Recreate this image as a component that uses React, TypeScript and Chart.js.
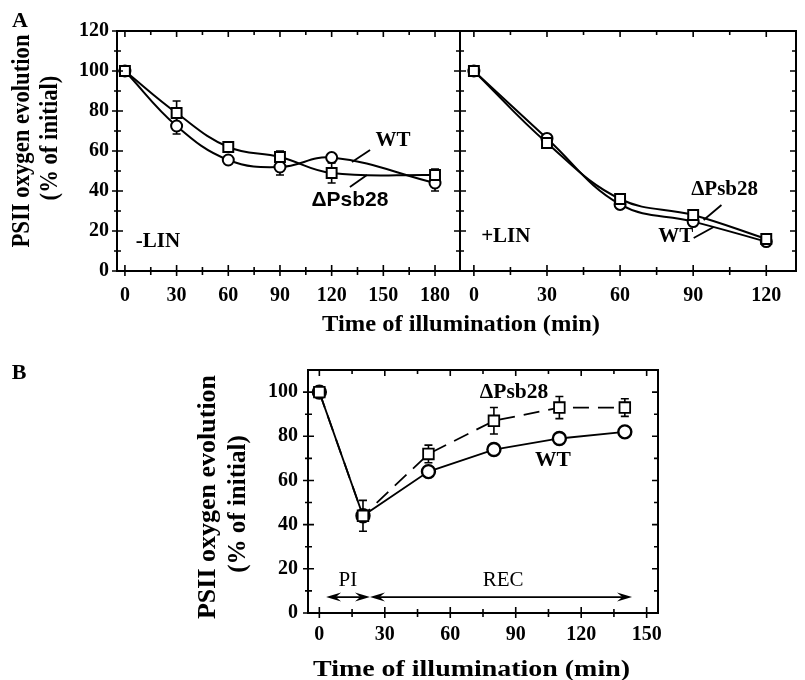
import React, { useEffect, useRef } from 'react';
import { Chart, registerables } from 'chart.js';
Chart.register(...registerables);

const W = 805;
const H = 680;
const SERIF = '"Liberation Serif", "Times New Roman", Times, serif';
const SANS = '"Liberation Sans", Arial, Helvetica, sans-serif';

// ---------- Panel A, -LIN ----------
const timeALeft = [0, 30, 60, 90, 120, 180];
const wtALeft = [100, 72.5, 55.5, 52, 56.7, 44];
const wtALeftErr = [0, 4, 0, 4, 0, 4];
const dALeft = [100, 79, 62, 57, 49, 48];
const dALeftErr = [0, 6, 2, 3, 5, 3];

// ---------- Panel A, +LIN ----------
const timeARight = [0, 30, 60, 90, 120];
const wtARight = [100, 66.3, 33.3, 24.7, 14.7];
const wtARightErr = [0, 0, 2, 0, 0];
const dARight = [100, 64, 36, 28, 16];
const dARightErr = [0, 0, 0, 0, 0];

// ---------- Panel B ----------
const timeB = [0, 20, 50, 80, 110, 140];
const wtB = [100, 44, 64, 74, 79, 82];
const wtBErr = [0, 0, 1, 2, 2, 2];
const dB = [100, 44, 72, 87, 93, 93];
const dBErr = [0, 7, 4, 6, 5, 4];

// ---------- ticks ----------
const xTicksALeft = [0, 30, 60, 90, 120, 150, 180];
const xMinorALeft = [15, 45, 75, 105, 135, 165];
const xTicksARight = [0, 30, 60, 90, 120];
const xMinorARight = [15, 45, 75, 105];
const yTicksA = [0, 20, 40, 60, 80, 100, 120];
const yMinorA = [10, 30, 50, 70, 90, 110];
const xTicksB = [0, 30, 60, 90, 120, 150];
const xMinorB = [15, 45, 75, 105, 135];
const yTicksB = [0, 20, 40, 60, 80, 100];
const yMinorB = [10, 30, 50, 70, 90];

type Txt = { x: number; y: number; text: string; font: string };
type Seg = { x1: number; y1: number; x2: number; y2: number };
type Arrow = { x1: number; x2: number; y: number };
type PageLabel = { px: number; py: number; text: string; font: string; rot?: number; width?: number; sx?: number };
type ErrSet = { xs: number[]; ys: number[]; errs: number[] };
type Spec = {
  xMajor: number[]; xMinor: number[]; yMajor: number[]; yMinor: number[];
  errors: ErrSet[]; texts: Txt[]; segs: Seg[]; arrows: Arrow[]; labels: PageLabel[];
  leftOut: boolean;
};

const bold = (s: number, fam = SERIF) => `bold ${s}px ${fam}`;

// annotation text (data coordinates)
const annALeft: Txt[] = [
  { x: 155.6, y: 65, text: 'WT', font: bold(21) },
  { x: 130.6, y: 35.5, text: '\u0394Psb28', font: bold(21, SANS) },
  { x: 19.2, y: 14.5, text: '-LIN', font: bold(21) },
];
const segALeft: Seg[] = [
  { x1: 142.3, y1: 60.5, x2: 131.8, y2: 54.5 },
  { x1: 140.5, y1: 48, x2: 130.6, y2: 42 },
];
const annARight: Txt[] = [
  { x: 102.9, y: 40.5, text: '\u0394Psb28', font: bold(21) },
  { x: 82.9, y: 17, text: 'WT', font: bold(21) },
  { x: 13.1, y: 17, text: '+LIN', font: bold(21) },
];
const segARight: Seg[] = [
  { x1: 101.6, y1: 33, x2: 94.3, y2: 25.5 },
  { x1: 90.2, y1: 16.5, x2: 98.4, y2: 22 },
];
const annB: Txt[] = [
  { x: 89.2, y: 99.9, text: '\u0394Psb28', font: bold(21.5) },
  { x: 107.1, y: 69.1, text: 'WT', font: bold(21.5) },
  { x: 13.1, y: 14.9, text: 'PI', font: `21px ${SERIF}` },
  { x: 84.2, y: 14.9, text: 'REC', font: `21px ${SERIF}` },
];
const arrowsB: Arrow[] = [
  { x1: 3.1, x2: 23.2, y: 7.2 },
  { x1: 23.2, x2: 143.3, y: 7.2 },
];

function makePlugin(spec: Spec) {
  return {
    id: 'frame',
    beforeDatasetsDraw(chart: any) {
      const ctx = chart.ctx as CanvasRenderingContext2D;
      const xs = chart.scales.x, ys = chart.scales.y;
      ctx.save();
      ctx.strokeStyle = '#000';
      ctx.lineWidth = 1.6;
      for (const e of spec.errors) {
        e.xs.forEach((xv, i) => {
          const err = e.errs[i];
          if (!err) return;
          const cx = xs.getPixelForValue(xv);
          const y1 = ys.getPixelForValue(e.ys[i] - err);
          const y2 = ys.getPixelForValue(e.ys[i] + err);
          ctx.beginPath();
          ctx.moveTo(cx, y1); ctx.lineTo(cx, y2);
          ctx.moveTo(cx - 4, y1); ctx.lineTo(cx + 4, y1);
          ctx.moveTo(cx - 4, y2); ctx.lineTo(cx + 4, y2);
          ctx.stroke();
        });
      }
      ctx.restore();
    },
    afterDraw(chart: any) {
      const ctx = chart.ctx as CanvasRenderingContext2D;
      const xs = chart.scales.x, ys = chart.scales.y;
      const { left, right, top, bottom } = chart.chartArea;
      ctx.save();
      ctx.strokeStyle = '#000';
      ctx.fillStyle = '#000';
      // ticks
      ctx.lineWidth = 1.6;
      ctx.beginPath();
      const vt = (v: number, maj: boolean) => {
        const p = xs.getPixelForValue(v);
        const inn = maj ? 6 : 4, out = maj ? 5 : 4;
        ctx.moveTo(p, bottom + out); ctx.lineTo(p, bottom - inn);
        ctx.moveTo(p, top); ctx.lineTo(p, top + inn);
      };
      const ht = (v: number, maj: boolean) => {
        const p = ys.getPixelForValue(v);
        const inn = maj ? 6 : 4, out = maj ? 5 : 3;
        ctx.moveTo(left - (spec.leftOut ? out : 0), p); ctx.lineTo(left + inn, p);
        ctx.moveTo(right, p); ctx.lineTo(right - inn, p);
      };
      spec.xMajor.forEach((v) => vt(v, true));
      spec.xMinor.forEach((v) => vt(v, false));
      spec.yMajor.forEach((v) => ht(v, true));
      spec.yMinor.forEach((v) => ht(v, false));
      ctx.stroke();
      // frame
      ctx.lineWidth = 2;
      ctx.strokeRect(left, top, right - left, bottom - top);
      // leader lines
      ctx.lineWidth = 1.8;
      for (const s of spec.segs) {
        ctx.beginPath();
        ctx.moveTo(xs.getPixelForValue(s.x1), ys.getPixelForValue(s.y1));
        ctx.lineTo(xs.getPixelForValue(s.x2), ys.getPixelForValue(s.y2));
        ctx.stroke();
      }
      // arrows
      ctx.lineWidth = 1.8;
      const head = (tx: number, ty: number, d: number) => {
        const L = 15, hw = 4.5;
        ctx.beginPath();
        ctx.moveTo(tx, ty);
        ctx.lineTo(tx - d * L, ty - hw);
        ctx.lineTo(tx - d * L * 0.65, ty);
        ctx.lineTo(tx - d * L, ty + hw);
        ctx.closePath();
        ctx.fill();
      };
      for (const a of spec.arrows) {
        const p1 = xs.getPixelForValue(a.x1), p2 = xs.getPixelForValue(a.x2);
        const py = ys.getPixelForValue(a.y);
        ctx.beginPath();
        ctx.moveTo(p1 + 4, py); ctx.lineTo(p2 - 4, py);
        ctx.stroke();
        head(p1, py, -1);
        head(p2, py, 1);
      }
      // annotation text
      ctx.textAlign = 'center';
      ctx.textBaseline = 'middle';
      for (const t of spec.texts) {
        ctx.font = t.font;
        ctx.fillText(t.text, xs.getPixelForValue(t.x), ys.getPixelForValue(t.y));
      }
      // page labels (axis titles, panel letters)
      for (const l of spec.labels) {
        ctx.save();
        ctx.font = l.font;
        ctx.translate(l.px, l.py);
        if (l.sx) ctx.scale(l.sx, 1);
        if (l.rot) ctx.rotate(l.rot);
        if (l.width) {
          const w = ctx.measureText(l.text).width;
          ctx.scale(l.width / w, 1);
        }
        ctx.fillText(l.text, 0, 0);
        ctx.restore();
      }
      ctx.restore();
    },
  };
}

const tickFont = { family: SERIF, size: 20, weight: 'bold' as const };

function pts(xs: number[], ys: number[]) {
  return xs.map((x, i) => ({ x, y: ys[i] }));
}

function ds(label: string, data: any[], square: boolean, opts: any = {}) {
  return {
    label,
    data,
    borderColor: '#000',
    borderWidth: 2,
    pointStyle: square ? 'rect' : 'circle',
    pointRadius: square ? 7 : 5.5,
    pointBackgroundColor: '#fff',
    pointBorderColor: '#000',
    pointBorderWidth: 2,
    fill: false,
    ...opts,
  };
}

function xScale(min: number, max: number, ticks: number[], bottomPx: number, pad: number) {
  return {
    type: 'linear',
    min,
    max,
    afterBuildTicks: (s: any) => { s.ticks = ticks.map((v) => ({ value: v })); },
    afterFit: (s: any) => { s.height = H - bottomPx; },
    grid: { display: false, drawTicks: false },
    border: { display: false },
    ticks: { color: '#000', font: tickFont, padding: pad, maxRotation: 0, autoSkip: false },
  };
}

function yScale(min: number, max: number, ticks: number[], widthPx: number, pad: number, display = true) {
  return {
    type: 'linear',
    display,
    min,
    max,
    afterBuildTicks: (s: any) => { s.ticks = ticks.map((v) => ({ value: v })); },
    afterFit: (s: any) => { s.width = widthPx; },
    grid: { display: false, drawTicks: false },
    border: { display: false },
    ticks: { color: '#000', font: tickFont, padding: pad, autoSkip: false },
  };
}

const commonOpts = {
  animation: false,
  responsive: false,
  maintainAspectRatio: false,
  events: [],
};

function cfgALeft(): any {
  const spec: Spec = {
    xMajor: xTicksALeft, xMinor: xMinorALeft, yMajor: yTicksA, yMinor: yMinorA,
    errors: [
      { xs: timeALeft, ys: wtALeft, errs: wtALeftErr },
      { xs: timeALeft, ys: dALeft, errs: dALeftErr },
    ],
    texts: annALeft, segs: segALeft, arrows: [],
    labels: [
      { px: 20, py: 21, text: 'A', font: bold(22) },
      { px: 22, py: 141, rot: -Math.PI / 2, sx: 1.15, text: 'PSII oxygen evolution', font: bold(22.7) },
      { px: 50, py: 138, rot: -Math.PI / 2, sx: 1.15, text: '(% of initial)', font: bold(22.7) },
      { px: 461, py: 325, text: 'Time of illumination (min)', font: bold(23), width: 278 },
    ],
    leftOut: true,
  };
  return {
    type: 'line',
    data: {
      datasets: [
        ds('\u0394Psb28', pts(timeALeft, dALeft), true, { tension: 0.4 }),
        ds('WT', pts(timeALeft, wtALeft), false, { tension: 0.4 }),
      ],
    },
    options: {
      ...commonOpts,
      layout: { padding: { left: 0, top: 31, right: W - 460, bottom: 0 } },
      plugins: { legend: { display: false }, tooltip: { enabled: false } },
      scales: {
        x: xScale(-4.6, 194.5, xTicksALeft, 271, 13),
        y: yScale(0, 120, yTicksA, 117, 8),
      },
    },
    plugins: [makePlugin(spec)],
  };
}

function cfgARight(): any {
  const spec: Spec = {
    xMajor: xTicksARight, xMinor: xMinorARight, yMajor: yTicksA, yMinor: yMinorA,
    errors: [
      { xs: timeARight, ys: wtARight, errs: wtARightErr },
      { xs: timeARight, ys: dARight, errs: dARightErr },
    ],
    texts: annARight, segs: segARight, arrows: [], labels: [], leftOut: false,
  };
  return {
    type: 'line',
    data: {
      datasets: [
        ds('\u0394Psb28', pts(timeARight, dARight), true, { tension: 0.4 }),
        ds('WT', pts(timeARight, wtARight), false, { tension: 0.4 }),
      ],
    },
    options: {
      ...commonOpts,
      layout: { padding: { left: 460, top: 31, right: W - 798, bottom: 0 } },
      plugins: { legend: { display: false }, tooltip: { enabled: false } },
      scales: {
        x: xScale(-5.7, 132.2, xTicksARight, 271, 13),
        y: yScale(0, 120, yTicksA, 0, 0, false),
      },
    },
    plugins: [makePlugin(spec)],
  };
}

function cfgB(): any {
  const spec: Spec = {
    xMajor: xTicksB, xMinor: xMinorB, yMajor: yTicksB, yMinor: yMinorB,
    errors: [
      { xs: timeB, ys: wtB, errs: wtBErr },
      { xs: timeB, ys: dB, errs: dBErr },
    ],
    texts: annB, segs: [], arrows: arrowsB,
    labels: [
      { px: 19, py: 373, text: 'B', font: bold(22) },
      { px: 208, py: 497, rot: -Math.PI / 2, text: 'PSII oxygen evolution', font: bold(26) },
      { px: 239, py: 504, rot: -Math.PI / 2, text: '(% of initial)', font: bold(25) },
      { px: 471.5, py: 670, text: 'Time of illumination (min)', font: bold(24), width: 317 },
    ],
    leftOut: true,
  };
  return {
    type: 'line',
    data: {
      datasets: [
        ds('\u0394Psb28', pts(timeB, dB), true, {
          tension: 0, borderWidth: 1.8, pointRadius: 7.5, pointBorderWidth: 1.8, borderDash: [16, 9],
        }),
        ds('WT', pts(timeB, wtB), false, { tension: 0, borderWidth: 1.8, pointRadius: 6.5, pointBorderWidth: 2.4 }),
      ],
    },
    options: {
      ...commonOpts,
      layout: { padding: { left: 0, top: 370, right: W - 658, bottom: 0 } },
      plugins: { legend: { display: false }, tooltip: { enabled: false } },
      scales: {
        x: xScale(-5.2, 155.2, xTicksB, 613, 10),
        y: yScale(0, 110, yTicksB, 308, 10),
      },
    },
    plugins: [makePlugin(spec)],
  };
}

export default function App() {
  const r1 = useRef<HTMLCanvasElement>(null);
  const r2 = useRef<HTMLCanvasElement>(null);
  const r3 = useRef<HTMLCanvasElement>(null);
  useEffect(() => {
    const charts = [
      new Chart(r1.current as HTMLCanvasElement, cfgALeft()),
      new Chart(r2.current as HTMLCanvasElement, cfgARight()),
      new Chart(r3.current as HTMLCanvasElement, cfgB()),
    ];
    return () => charts.forEach((c) => c.destroy());
  }, []);
  const cs: React.CSSProperties = { position: 'absolute', left: 0, top: 0, width: W, height: H };
  return (
    <div style={{ position: 'fixed', left: 0, top: 0, width: W, height: H, background: '#fff' }}>
      <canvas ref={r1} width={W} height={H} style={cs} />
      <canvas ref={r2} width={W} height={H} style={cs} />
      <canvas ref={r3} width={W} height={H} style={cs} />
    </div>
  );
}
